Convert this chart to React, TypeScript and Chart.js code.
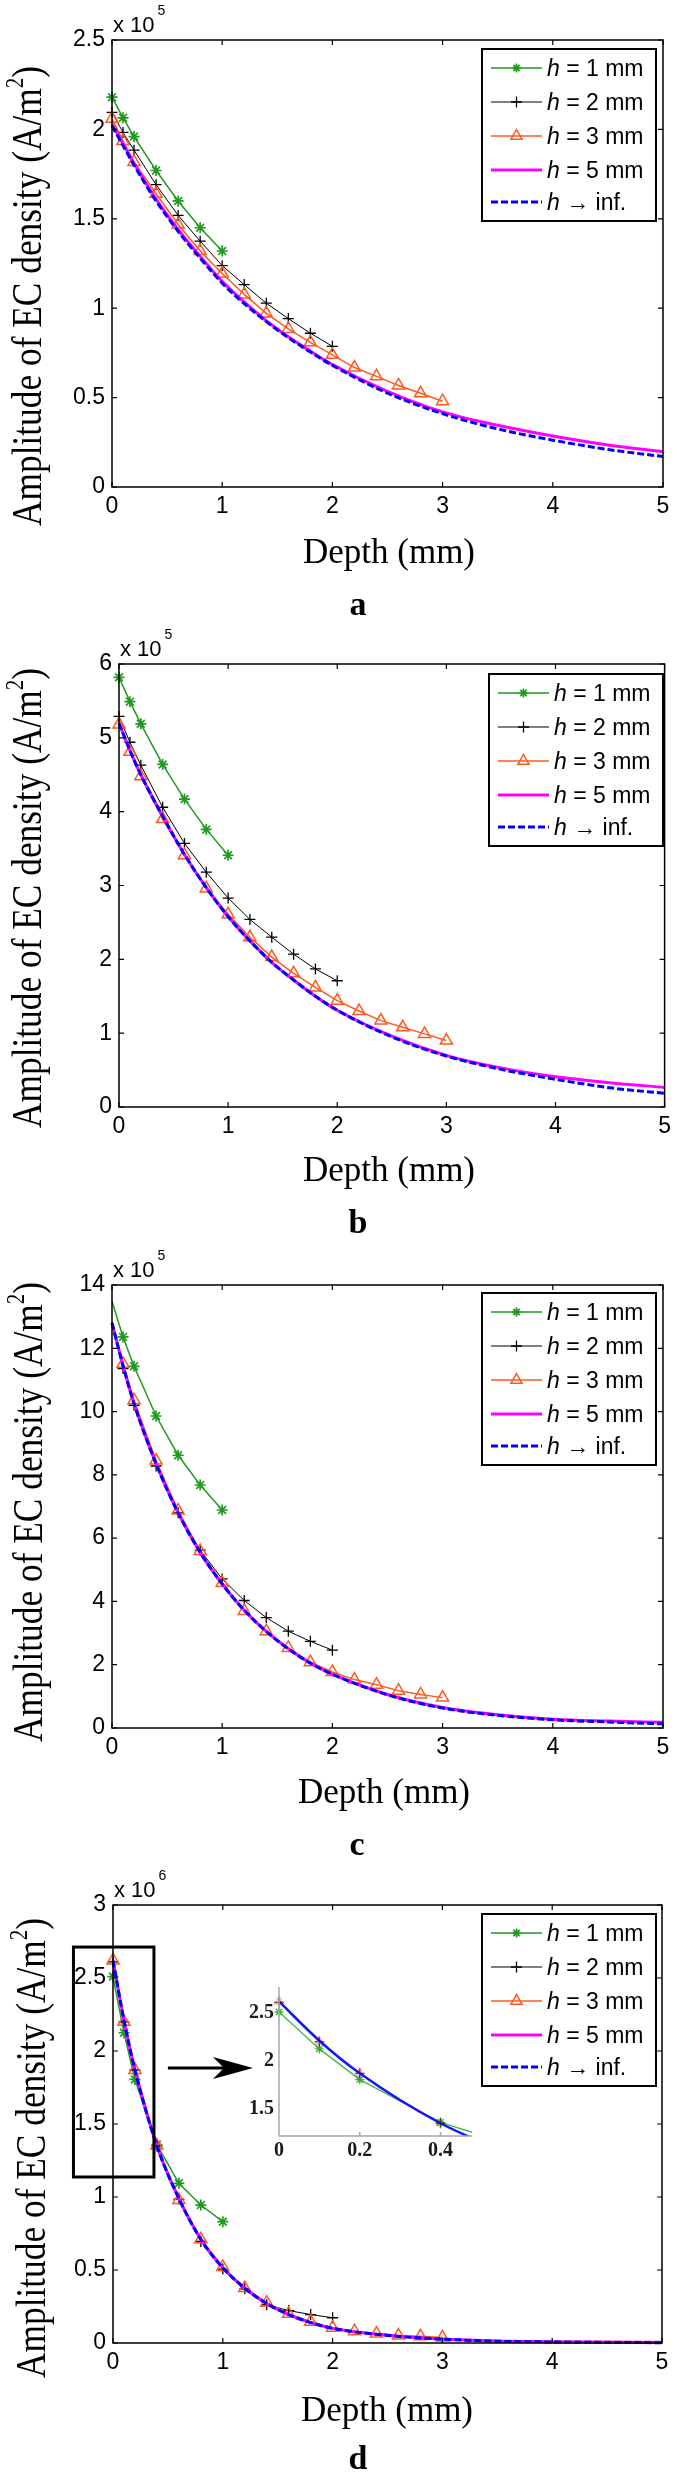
import React, { useEffect, useRef } from 'react';
import { Chart, registerables } from 'chart.js';

Chart.register(...registerables);

// ---------------- data ----------------
// depth sampling (mm)
const X_H1 = [0, 0.1, 0.2, 0.4, 0.6, 0.8, 1.0];
const X_H2 = [0, 0.1, 0.2, 0.4, 0.6, 0.8, 1.0, 1.2, 1.4, 1.6, 1.8, 2.0];
const X_H3 = [0, 0.1, 0.2, 0.4, 0.6, 0.8, 1.0, 1.2, 1.4, 1.6, 1.8, 2.0, 2.2, 2.4, 2.6, 2.8, 3.0];
const X_CURVE = [0, 0.1, 0.2, 0.4, 0.6, 0.8, 1.0, 1.2, 1.4, 1.6, 1.8, 2.0, 2.5, 3.0, 3.5, 4.0, 4.5, 5.0];

const X_TICKS = [0, 1, 2, 3, 4, 5];
const LEGEND_LABELS = ['= 1 mm', '= 2 mm', '= 3 mm', '= 5 mm', '\u2192 inf.'];

// panel a (x 10^5 A/m^2)
const A_Y_TICKS = [0, 0.5, 1, 1.5, 2, 2.5];
const A_H1 = [2.18, 2.065, 1.96, 1.77, 1.6, 1.45, 1.32];
const A_H2 = [2.095, 1.983, 1.884, 1.691, 1.519, 1.375, 1.238, 1.132, 1.028, 0.942, 0.86, 0.787];
const A_H3 = [2.06, 1.935, 1.818, 1.64, 1.468, 1.32, 1.194, 1.077, 0.971, 0.884, 0.809, 0.739, 0.668, 0.619, 0.568, 0.524, 0.48];
const A_H5 = [2.03, 1.92, 1.81, 1.61, 1.44, 1.29, 1.15, 1.035, 0.93, 0.84, 0.76, 0.685, 0.535, 0.42, 0.345, 0.285, 0.235, 0.197];
const A_INF = [2.02, 1.91, 1.8, 1.6, 1.43, 1.28, 1.14, 1.025, 0.925, 0.835, 0.755, 0.68, 0.525, 0.41, 0.325, 0.262, 0.21, 0.17];

// panel b (x 10^5 A/m^2)
const B_Y_TICKS = [0, 1, 2, 3, 4, 5, 6];
const B_H1 = [5.82, 5.49, 5.19, 4.64, 4.17, 3.76, 3.41];
const B_H2 = [5.29, 4.94, 4.63, 4.06, 3.57, 3.18, 2.83, 2.54, 2.3, 2.07, 1.87, 1.71];
const B_H3 = [5.18, 4.81, 4.48, 3.9, 3.41, 2.96, 2.61, 2.3, 2.03, 1.81, 1.62, 1.44, 1.3, 1.17, 1.08, 0.99, 0.9];
const B_H5 = [5.2, 4.83, 4.5, 3.94, 3.42, 2.97, 2.58, 2.25, 1.96, 1.72, 1.5, 1.31, 0.96, 0.7, 0.53, 0.41, 0.33, 0.265];
const B_INF = [5.2, 4.83, 4.5, 3.94, 3.42, 2.97, 2.58, 2.25, 1.96, 1.72, 1.5, 1.31, 0.95, 0.69, 0.51, 0.375, 0.26, 0.185];

// panel c (x 10^5 A/m^2)
const C_Y_TICKS = [0, 2, 4, 6, 8, 10, 12, 14];
const C_H1 = [13.49, 12.36, 11.43, 9.86, 8.62, 7.68, 6.89];
const C_H2 = [12.8, 11.36, 10.2, 8.28, 6.8, 5.62, 4.71, 4.03, 3.49, 3.06, 2.74, 2.46];
const C_H3 = [12.8, 11.51, 10.36, 8.45, 6.87, 5.59, 4.58, 3.7, 3.06, 2.53, 2.08, 1.77, 1.53, 1.37, 1.18, 1.06, 0.96];
const C_H5 = [12.8, 11.45, 10.25, 8.35, 6.8, 5.55, 4.55, 3.72, 3.05, 2.5, 2.05, 1.7, 1.06, 0.65, 0.42, 0.28, 0.22, 0.18];
const C_INF = [12.8, 11.45, 10.25, 8.35, 6.8, 5.55, 4.55, 3.72, 3.05, 2.5, 2.05, 1.7, 1.05, 0.63, 0.4, 0.26, 0.19, 0.13];

// panel d (x 10^6 A/m^2)
const D_Y_TICKS = [0, 0.5, 1, 1.5, 2, 2.5, 3];
const D_H1 = [2.51, 2.125, 1.805, 1.359, 1.094, 0.945, 0.831];
const D_H2 = [2.61, 2.2, 1.87, 1.35, 0.986, 0.696, 0.506, 0.371, 0.262, 0.222, 0.195, 0.173];
const D_H3 = [2.62, 2.2, 1.87, 1.353, 0.98, 0.71, 0.52, 0.376, 0.276, 0.2, 0.146, 0.105, 0.081, 0.065, 0.051, 0.046, 0.038];
const D_H5 = [2.62, 2.21, 1.87, 1.35, 0.99, 0.71, 0.515, 0.375, 0.27, 0.195, 0.14, 0.1, 0.053, 0.027, 0.014, 0.009, 0.006, 0.005];
const D_INF = [2.62, 2.21, 1.87, 1.35, 0.99, 0.71, 0.515, 0.375, 0.27, 0.195, 0.14, 0.1, 0.052, 0.026, 0.012, 0.007, 0.004, 0.002];

// inset of panel d
const INSET_X_TICKS = [0, 0.2, 0.4];
const INSET_Y_TICKS = [1.5, 2, 2.5];
const INSET_X_RANGE = [0, 0.478];
const INSET_Y_RANGE = [1.217, 2.77];
// zoom rectangle in panel d (data units)
const ZOOM_BOX = { x0: -0.36, x1: 0.373, y0: 1.137, y1: 2.712 };
const ARROW = { x0: 0.5, x1: 1.275, y: 1.884 };

// ---------------- styles ----------------
const SANS = '"Liberation Sans", Arial, Helvetica, sans-serif';
const SERIF = '"Liberation Serif", "Times New Roman", Times, serif';
const GREEN = '#1f9a1f';
const ORANGE = '#ff5a1e';
const MAGENTA = '#ff00ff';
const BLUE = '#0000ff';
const PAGE_W = 677;
const TICK_LEN = 5;
const Y_TITLE_FONT = 42;
const Y_TITLE_LEN = 460;

interface SeriesStyle {
  color: string;
  width: number;
  dash?: number[];
  marker?: string;
  radius: number;
  legendRadius: number;
  markerWidth: number;
  fill: string;
  smooth?: boolean;
  order: number;
}

const STYLES: SeriesStyle[] = [
  { color: GREEN, width: 1.5, marker: 'star', radius: 5.5, legendRadius: 4.5, markerWidth: 1.7, fill: GREEN, order: 4 },
  { color: '#000000', width: 1, marker: 'cross', radius: 5.5, legendRadius: 5.5, markerWidth: 1.3, fill: '#000000', order: 3 },
  { color: ORANGE, width: 1.5, marker: 'triangle', radius: 7, legendRadius: 6.5, markerWidth: 1.5, fill: 'rgba(0,0,0,0)', order: 2 },
  { color: MAGENTA, width: 3, radius: 0, legendRadius: 0, markerWidth: 0, fill: MAGENTA, smooth: true, order: 1 },
  { color: BLUE, width: 3, dash: [7, 3], radius: 0, legendRadius: 0, markerWidth: 0, fill: BLUE, smooth: true, order: 0 },
];

interface PanelCfg {
  key: string;
  top: number;
  height: number;
  area: { l: number; t: number; r: number; b: number };
  yTicks: number[];
  exp: string;
  series: number[][];
  letter: string;
  yTitle: { x: number; y: number };
  xTitle: { x: number; y: number };
  letterPos: { x: number; y: number };
  legend: { l: number; t: number };
  hideFirstMarker?: boolean;
  zoomBox?: boolean;
}

const PANELS: PanelCfg[] = [
  {
    key: 'a', top: 0, height: 620, area: { l: 112, t: 40, r: 663, b: 487 }, yTicks: A_Y_TICKS, exp: '5',
    series: [A_H1, A_H2, A_H3, A_H5, A_INF], letter: 'a',
    yTitle: { x: 41, y: 296 }, xTitle: { x: 389, y: 563 }, letterPos: { x: 358, y: 615 }, legend: { l: 482, t: 49 },
  },
  {
    key: 'b', top: 620, height: 620, area: { l: 119, t: 44, r: 669, b: 487 }, yTicks: B_Y_TICKS, exp: '5',
    series: [B_H1, B_H2, B_H3, B_H5, B_INF], letter: 'b',
    yTitle: { x: 41, y: 278 }, xTitle: { x: 389, y: 561 }, letterPos: { x: 358, y: 613 }, legend: { l: 489, t: 54 },
  },
  {
    key: 'c', top: 1240, height: 620, area: { l: 112, t: 45, r: 663, b: 488 }, yTicks: C_Y_TICKS, exp: '5',
    series: [C_H1, C_H2, C_H3, C_H5, C_INF], letter: 'c',
    yTitle: { x: 42, y: 272 }, xTitle: { x: 384, y: 563 }, letterPos: { x: 357, y: 615 }, legend: { l: 482, t: 53 },
    hideFirstMarker: true,
  },
  {
    key: 'd', top: 1860, height: 627, area: { l: 113, t: 45, r: 662, b: 483 }, yTicks: D_Y_TICKS, exp: '6',
    series: [D_H1, D_H2, D_H3, D_H5, D_INF], letter: 'd',
    yTitle: { x: 45, y: 288 }, xTitle: { x: 387, y: 561 }, letterPos: { x: 358, y: 609 }, legend: { l: 482, t: 54 },
    zoomBox: true,
  },
];

const SERIES_X = [X_H1, X_H2, X_H3, X_CURVE, X_CURVE];

// ---------------- drawing helpers ----------------
function drawMarker(ctx: CanvasRenderingContext2D, kind: string | undefined, x: number, y: number, r: number) {
  if (!kind || r <= 0) return;
  ctx.beginPath();
  if (kind === 'star') {
    for (let k = 0; k < 4; k++) {
      const a = (k * Math.PI) / 4;
      ctx.moveTo(x - r * Math.cos(a), y - r * Math.sin(a));
      ctx.lineTo(x + r * Math.cos(a), y + r * Math.sin(a));
    }
  } else if (kind === 'cross') {
    ctx.moveTo(x - r, y);
    ctx.lineTo(x + r, y);
    ctx.moveTo(x, y - r);
    ctx.lineTo(x, y + r);
  } else if (kind === 'triangle') {
    for (let k = 0; k < 3; k++) {
      const a = (k * 2 * Math.PI) / 3;
      const px = x + Math.sin(a) * r;
      const py = y - Math.cos(a) * r;
      if (k === 0) ctx.moveTo(px, py);
      else ctx.lineTo(px, py);
    }
    ctx.closePath();
  }
  ctx.stroke();
}

function drawYTitle(ctx: CanvasRenderingContext2D, bx: number, cy: number) {
  ctx.save();
  const main = 'Amplitude of EC density (A/m';
  const supSize = Math.round(Y_TITLE_FONT * 0.6);
  ctx.font = `${Y_TITLE_FONT}px ${SERIF}`;
  const w1 = ctx.measureText(main).width;
  const w3 = ctx.measureText(')').width;
  ctx.font = `${supSize}px ${SERIF}`;
  const w2 = ctx.measureText('2').width;
  const total = w1 + w2 + w3;
  const k = Y_TITLE_LEN / total;
  ctx.translate(bx, cy);
  ctx.rotate(-Math.PI / 2);
  ctx.scale(k, 1);
  let u = -total / 2;
  ctx.fillStyle = '#000';
  ctx.textAlign = 'left';
  ctx.textBaseline = 'alphabetic';
  ctx.font = `${Y_TITLE_FONT}px ${SERIF}`;
  ctx.fillText(main, u, 0);
  u += w1;
  ctx.font = `${supSize}px ${SERIF}`;
  ctx.fillText('2', u, -Y_TITLE_FONT * 0.42);
  u += w2;
  ctx.font = `${Y_TITLE_FONT}px ${SERIF}`;
  ctx.fillText(')', u, 0);
  ctx.restore();
}

function drawLegend(ctx: CanvasRenderingContext2D, L: number, T: number) {
  const W = 174;
  const H = 172;
  const rows = [19, 53, 87, 121, 153];
  ctx.save();
  ctx.fillStyle = '#fff';
  ctx.fillRect(L, T, W, H);
  ctx.strokeStyle = '#000';
  ctx.lineWidth = 2;
  ctx.setLineDash([]);
  ctx.strokeRect(L, T, W, H);
  STYLES.forEach((s, i) => {
    const y = T + rows[i];
    ctx.strokeStyle = s.color;
    ctx.lineWidth = s.width;
    ctx.setLineDash(s.dash || []);
    ctx.beginPath();
    ctx.moveTo(L + 9, y);
    ctx.lineTo(L + 60, y);
    ctx.stroke();
    ctx.setLineDash([]);
    ctx.lineWidth = s.markerWidth;
    drawMarker(ctx, s.marker, L + 34.5, y, s.legendRadius);
    ctx.fillStyle = '#000';
    ctx.textAlign = 'left';
    ctx.textBaseline = 'alphabetic';
    ctx.font = `italic 23px ${SANS}`;
    ctx.fillText('h', L + 65, y + 8);
    const hw = ctx.measureText('h').width;
    ctx.font = `23px ${SANS}`;
    ctx.fillText(' ' + LEGEND_LABELS[i], L + 65 + hw, y + 8);
  });
  ctx.restore();
}

function drawDecor(chart: any, cfg: PanelCfg) {
  const ctx: CanvasRenderingContext2D = chart.ctx;
  const { left, top, right, bottom } = chart.chartArea;
  const xs = chart.scales.x;
  const ys = chart.scales.y;
  ctx.save();
  ctx.setLineDash([]);
  ctx.strokeStyle = '#000';
  ctx.lineWidth = 1.5;
  ctx.strokeRect(left, top, right - left, bottom - top);
  ctx.lineWidth = 1.2;
  ctx.beginPath();
  xs.ticks.forEach((t: any) => {
    const px = xs.getPixelForValue(t.value);
    ctx.moveTo(px, bottom);
    ctx.lineTo(px, bottom - TICK_LEN);
    ctx.moveTo(px, top);
    ctx.lineTo(px, top + TICK_LEN);
  });
  ys.ticks.forEach((t: any) => {
    const py = ys.getPixelForValue(t.value);
    ctx.moveTo(left, py);
    ctx.lineTo(left + TICK_LEN, py);
    ctx.moveTo(right, py);
    ctx.lineTo(right - TICK_LEN, py);
  });
  ctx.stroke();

  // exponent label
  ctx.fillStyle = '#000';
  ctx.textAlign = 'left';
  ctx.textBaseline = 'alphabetic';
  ctx.font = `22px ${SANS}`;
  ctx.fillText('x 10', left + 1, top - 8);
  const ew = ctx.measureText('x 10').width;
  ctx.font = `14px ${SANS}`;
  ctx.fillText(cfg.exp, left + 1 + ew + 3, top - 25);

  // titles
  drawYTitle(ctx, cfg.yTitle.x, cfg.yTitle.y);
  ctx.font = `35px ${SERIF}`;
  ctx.textAlign = 'center';
  ctx.fillText('Depth (mm)', cfg.xTitle.x, cfg.xTitle.y);
  ctx.font = `bold 34px ${SERIF}`;
  ctx.fillText(cfg.letter, cfg.letterPos.x, cfg.letterPos.y);

  // zoom rectangle + arrow (panel d)
  if (cfg.zoomBox) {
    const x0 = xs.getPixelForValue(ZOOM_BOX.x0);
    const x1 = xs.getPixelForValue(ZOOM_BOX.x1);
    const y0 = ys.getPixelForValue(ZOOM_BOX.y1);
    const y1 = ys.getPixelForValue(ZOOM_BOX.y0);
    ctx.strokeStyle = '#000';
    ctx.lineWidth = 3;
    ctx.strokeRect(x0, y0, x1 - x0, y1 - y0);
    const ax0 = xs.getPixelForValue(ARROW.x0);
    const ax1 = xs.getPixelForValue(ARROW.x1);
    const ay = ys.getPixelForValue(ARROW.y);
    ctx.beginPath();
    ctx.moveTo(ax0, ay);
    ctx.lineTo(ax1 - 28, ay);
    ctx.stroke();
    ctx.fillStyle = '#000';
    ctx.beginPath();
    ctx.moveTo(ax1, ay);
    ctx.lineTo(ax1 - 40, ay - 11);
    ctx.lineTo(ax1 - 29, ay);
    ctx.lineTo(ax1 - 40, ay + 11);
    ctx.closePath();
    ctx.fill();
  }

  drawLegend(ctx, cfg.legend.l, cfg.legend.t);
  ctx.restore();
}

function fmt(v: number) {
  return String(Math.round(v * 1000) / 1000);
}

function buildMainConfig(cfg: PanelCfg): any {
  const { area } = cfg;
  const datasets = STYLES.map((s, i) => {
    const xsArr = SERIES_X[i];
    const ysArr = cfg.series[i];
    const radius = cfg.hideFirstMarker ? (c: any) => (c.dataIndex === 0 ? 0 : s.radius) : s.radius;
    return {
      label: LEGEND_LABELS[i],
      data: xsArr.map((x, j) => ({ x, y: ysArr[j] })),
      borderColor: s.color,
      backgroundColor: s.color,
      borderWidth: s.width,
      borderDash: s.dash || [],
      pointStyle: s.marker || 'circle',
      pointRadius: radius,
      pointHoverRadius: 0,
      pointBorderColor: s.color,
      pointBackgroundColor: s.fill,
      pointBorderWidth: s.markerWidth,
      tension: 0,
      cubicInterpolationMode: s.smooth ? 'monotone' : 'default',
      fill: false,
      clip: false,
      order: s.order,
    };
  });
  const font = { family: SANS, size: 23 };
  return {
    type: 'line',
    data: { datasets },
    options: {
      animation: false,
      responsive: false,
      devicePixelRatio: 1,
      events: [],
      layout: { padding: { top: area.t, right: PAGE_W - area.r, left: 0, bottom: 0 } },
      plugins: { legend: { display: false }, tooltip: { enabled: false } },
      scales: {
        x: {
          type: 'linear',
          min: X_TICKS[0],
          max: X_TICKS[X_TICKS.length - 1],
          afterFit: (s: any) => { s.height = cfg.height - area.b; },
          afterBuildTicks: (s: any) => { s.ticks = X_TICKS.map((v) => ({ value: v })); },
          grid: { display: false, drawTicks: false },
          border: { display: false },
          ticks: { padding: 6, font, color: '#000', autoSkip: false, maxRotation: 0, callback: (v: number) => fmt(v) },
        },
        y: {
          type: 'linear',
          min: cfg.yTicks[0],
          max: cfg.yTicks[cfg.yTicks.length - 1],
          afterFit: (s: any) => { s.width = area.l; },
          afterBuildTicks: (s: any) => { s.ticks = cfg.yTicks.map((v) => ({ value: v })); },
          grid: { display: false, drawTicks: false },
          border: { display: false },
          ticks: { padding: 7, font, color: '#000', autoSkip: false, callback: (v: number) => fmt(v) },
        },
      },
    },
    plugins: [{ id: 'decor' + cfg.key, afterDraw: (chart: any) => drawDecor(chart, cfg) }],
  };
}

const INSET_POS = { left: 230, top: 1960, width: 260, height: 200 };
const INSET_AREA = { l: 49, t: 27, r: 242, b: 176 };

function buildInsetConfig(): any {
  const pts = (xs: number[], ys: number[]) => xs.map((x, j) => ({ x, y: ys[j] }));
  const datasets = [
    {
      data: pts(X_H3, D_H3), showLine: false, pointStyle: 'triangle', pointRadius: 5,
      pointBorderColor: 'rgba(255,120,120,0.55)', pointBackgroundColor: 'rgba(255,170,170,0.35)', pointBorderWidth: 1.5, order: 3,
    },
    {
      data: pts(X_H1, D_H1), borderColor: 'rgba(40,170,40,0.85)', borderWidth: 1.3, pointStyle: 'star', pointRadius: 4.5,
      pointBorderColor: 'rgba(40,170,40,0.9)', pointBorderWidth: 1.4, tension: 0, order: 2,
    },
    {
      data: pts(X_CURVE, D_INF), borderColor: '#1515ff', borderWidth: 2.5, pointRadius: 0, cubicInterpolationMode: 'monotone', order: 1,
    },
    {
      data: pts(X_H2, D_H2), showLine: false, pointStyle: 'cross', pointRadius: 5, pointBorderColor: 'rgba(50,30,30,0.7)',
      pointBorderWidth: 1.3, order: 0,
    },
  ].map((d: any) => ({ fill: false, pointHoverRadius: 0, clip: { left: 12, top: 12, right: 0, bottom: 0 }, ...d }));
  const font = { family: SERIF, size: 20, weight: 'bold' };
  return {
    type: 'line',
    data: { datasets },
    options: {
      animation: false,
      responsive: false,
      devicePixelRatio: 1,
      events: [],
      layout: { padding: { top: INSET_AREA.t, right: INSET_POS.width - INSET_AREA.r, left: 0, bottom: 0 } },
      plugins: { legend: { display: false }, tooltip: { enabled: false } },
      scales: {
        x: {
          type: 'linear',
          min: INSET_X_RANGE[0],
          max: INSET_X_RANGE[1],
          afterFit: (s: any) => { s.height = INSET_POS.height - INSET_AREA.b; },
          afterBuildTicks: (s: any) => { s.ticks = INSET_X_TICKS.map((v) => ({ value: v })); },
          grid: { display: false, drawTicks: false },
          border: { display: false },
          ticks: { padding: 3, font, color: '#1a1a1a', autoSkip: false, maxRotation: 0, callback: (v: number) => fmt(v) },
        },
        y: {
          type: 'linear',
          min: INSET_Y_RANGE[0],
          max: INSET_Y_RANGE[1],
          afterFit: (s: any) => { s.width = INSET_AREA.l; },
          afterBuildTicks: (s: any) => { s.ticks = INSET_Y_TICKS.map((v) => ({ value: v })); },
          grid: { display: false, drawTicks: false },
          border: { display: false },
          ticks: { padding: 5, font, color: '#1a1a1a', autoSkip: false, callback: (v: number) => fmt(v) },
        },
      },
    },
    plugins: [
      {
        id: 'insetAxes',
        afterDraw: (chart: any) => {
          const ctx: CanvasRenderingContext2D = chart.ctx;
          const { left, top, right, bottom } = chart.chartArea;
          const xs = chart.scales.x;
          ctx.save();
          ctx.strokeStyle = '#a8a8a8';
          ctx.lineWidth = 1.5;
          ctx.beginPath();
          ctx.moveTo(left, top);
          ctx.lineTo(left, bottom);
          ctx.lineTo(right, bottom);
          xs.ticks.forEach((t: any) => {
            const px = xs.getPixelForValue(t.value);
            ctx.moveTo(px, bottom);
            ctx.lineTo(px, bottom - 4);
          });
          ctx.stroke();
          ctx.restore();
        },
      },
    ],
  };
}

// ---------------- components ----------------
function ChartCanvas(props: { build: () => any; left: number; top: number; width: number; height: number }) {
  const ref = useRef<HTMLCanvasElement>(null);
  useEffect(() => {
    const chart = new Chart(ref.current as HTMLCanvasElement, props.build());
    return () => chart.destroy();
  }, []);
  return (
    <canvas
      ref={ref}
      width={props.width}
      height={props.height}
      style={{ position: 'absolute', left: props.left, top: props.top, width: props.width, height: props.height }}
    />
  );
}

export default function App() {
  return (
    <div style={{ position: 'absolute', left: 0, top: 0, width: PAGE_W, height: 2487, background: '#fff' }}>
      {PANELS.map((p) => (
        <ChartCanvas key={p.key} build={() => buildMainConfig(p)} left={0} top={p.top} width={PAGE_W} height={p.height} />
      ))}
      <ChartCanvas
        build={buildInsetConfig}
        left={INSET_POS.left}
        top={INSET_POS.top}
        width={INSET_POS.width}
        height={INSET_POS.height}
      />
    </div>
  );
}
